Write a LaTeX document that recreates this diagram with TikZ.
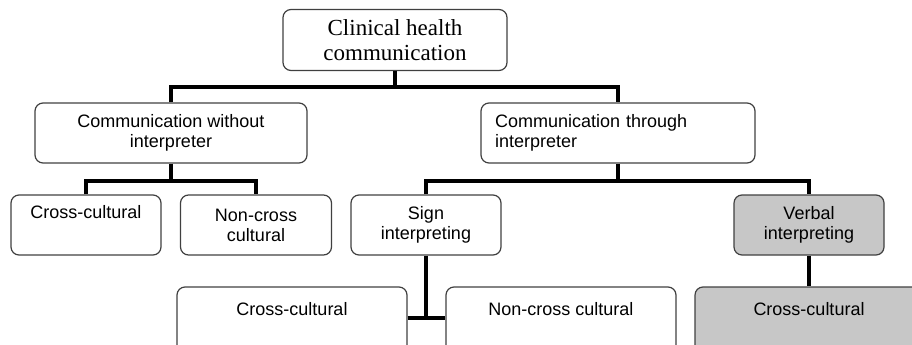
\documentclass[tikz,border=0pt]{standalone}
\usepackage{fontspec}
\setmainfont{Liberation Sans}
\newfontfamily\serifbox{Liberation Serif}
\usepackage{tikz}
\usetikzlibrary{calc}

\begin{document}
\begin{tikzpicture}[x=1pt, y=-1pt]
		\tikzset{box/.style={shape = rectangle, draw = black!75, line width = 1.2pt,
				rounded corners = 8pt, align = center, inner sep = 0pt,
				font = \fontsize{18}{20}\selectfont}}
		\tikzset{greybox/.style={box, fill = black!22}}
		\tikzset{link/.style={line width = 3.3pt}}
		\useasboundingbox (0, 0) rectangle (912, 345);
		\clip (0, 0) rectangle (912, 345);
					%boxes
					\node[box, minimum width = 224pt, minimum height = 61pt,
						font = \serifbox\fontsize{23}{25}\selectfont] (clin) at (395, 40) {Clinical health\\communication};
					\node[box, minimum width = 272pt, minimum height = 60pt] (without) at (171, 133) {Communication without\\interpreter};
					\node[box, minimum width = 274pt, minimum height = 60pt, align = left,
						text width = 246pt] (through) at (618, 133) {Communication through\\interpreter};
					\node[box, minimum width = 150pt, minimum height = 60pt] (cross) at (86, 225) {Cross-cultural\\\strut};
					\node[box, minimum width = 151pt, minimum height = 60pt] (noncross) at (256, 225) {Non-cross\\cultural};
					\node[box, minimum width = 150pt, minimum height = 60pt] (sign) at (426, 225) {Sign\\interpreting};
					\node[greybox, minimum width = 150pt, minimum height = 60pt] (verbal) at (809, 225) {Verbal\\interpreting};
					\node[box, minimum width = 230pt, minimum height = 70pt] (signcross) at (292, 322) {Cross-cultural\\\strut};
					\node[box, minimum width = 230pt, minimum height = 70pt] (signnon) at (561, 322) {Non-cross cultural\\\strut};
					\node[greybox, minimum width = 228pt, minimum height = 70pt] (verbalcross) at (809, 322) {Cross-cultural\\\strut};
					%links
					\coordinate (bar1) at (0, 87);
					\coordinate (bar2) at (0, 181);
					\coordinate (bar3) at (0, 318);
					\draw[link] (clin.south) -- (clin.south |- bar1);
					\draw[link] (without.north) |- (through.north |- bar1) -- (through.north);
					\draw[link] (without.south) -- (without.south |- bar2);
					\draw[link] (cross.north) |- (noncross.north |- bar2) -- (noncross.north);
					\draw[link] (through.south) -- (through.south |- bar2);
					\draw[link] (sign.north) |- (verbal.north |- bar2) -- (verbal.north);
					\draw[link] (sign.south) -- (sign.south |- bar3);
					\draw[link] (signcross.east |- bar3) -- (signnon.west |- bar3);
					\draw[link] (verbal.south) -- (verbalcross.north);
					
					\end{tikzpicture}
\end{document}
